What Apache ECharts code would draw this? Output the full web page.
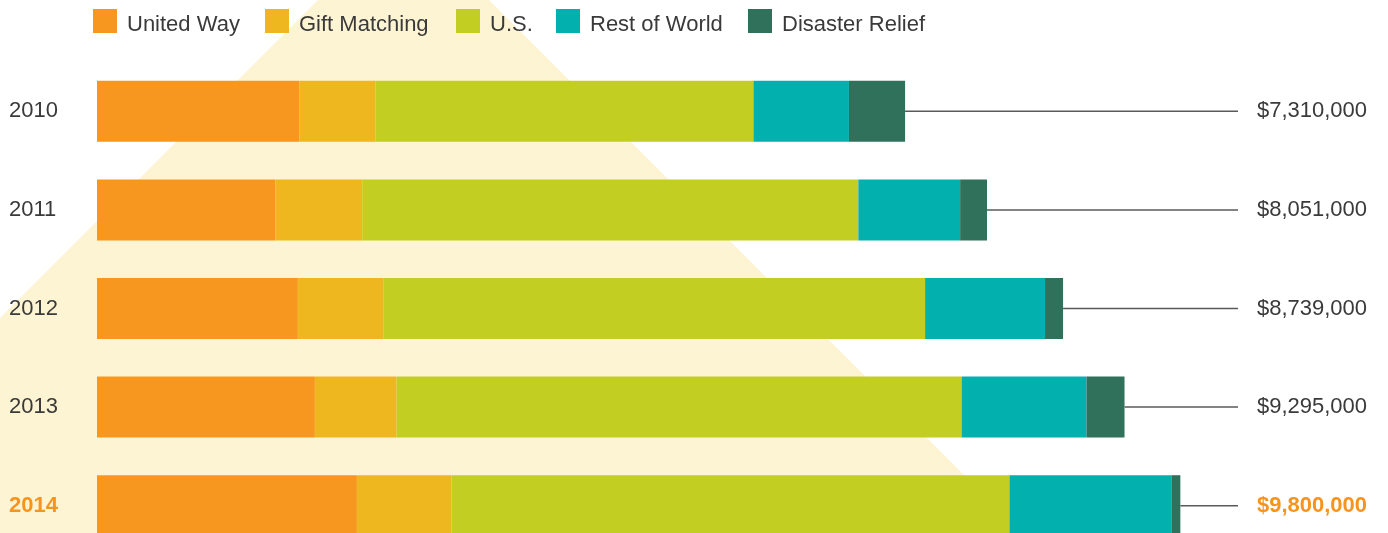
<!DOCTYPE html>
<html>
<head>
<meta charset="utf-8">
<script src="https://cdn.jsdelivr.net/npm/echarts@6/dist/echarts.min.js"></script>
<style>
html,body{margin:0;padding:0;background:#fff;}
#chart{width:1388px;height:533px;}
</style>
</head>
<body>
<div id="chart"></div>
<script>
const years = ['2010', '2011', '2012', '2013', '2014'];
const seriesNames = ['United Way', 'Gift Matching', 'U.S.', 'Rest of World', 'Disaster Relief'];
const unitedWay    = [1832000, 1613000, 1817000, 1971000, 2351000];
const giftMatching = [689000, 786000, 777000, 739000, 856000];
const usValues     = [3417000, 4488000, 4897000, 5111000, 5047000];
const restOfWorld  = [864000, 921000, 1085000, 1130000, 1465000];
const disaster     = [508000, 243000, 163000, 344000, 81000];
const totals       = [7310000, 8051000, 8739000, 9295000, 9800000];
const totalLabels  = ['$7,310,000', '$8,051,000', '$8,739,000', '$9,295,000', '$9,800,000'];

const colors = ['#F7971F', '#EEB720', '#C2CF22', '#02B0AE', '#2F715A'];
const FONT = '"Liberation Sans", Arial, sans-serif';
const TEXT = '#3a3a3a';
const HIGHLIGHT = '#F7941D';

const chart = echarts.init(document.getElementById('chart'));
const valuesBySeries = [unitedWay, giftMatching, usValues, restOfWorld, disaster];

const barSeries = seriesNames.map((name, i) => ({
  name: name,
  type: 'bar',
  stack: 'total',
  barWidth: 61,
  itemStyle: { color: colors[i] },
  emphasis: { disabled: true },
  data: valuesBySeries[i],
  z: 3
}));

const legendLefts = [93, 265, 456, 556, 748];
const legends = seriesNames.map((name, i) => ({
  data: [name],
  left: legendLefts[i],
  top: 9,
  padding: 0,
  itemWidth: 24,
  itemHeight: 24,
  icon: 'rect',
  selectedMode: false,
  formatter: function (n) { return '{t|' + n + '}'; },
  textStyle: {
    fontSize: 22, color: TEXT, fontFamily: FONT, padding: [0, 0, 0, 5],
    rich: { t: { fontSize: 22, color: TEXT, fontFamily: FONT, padding: [8, 0, 0, 0] } }
  }
}));

const totalSeries = {
  type: 'custom',
  z: 4,
  silent: true,
  encode: { x: 0, y: 1 },
  data: totals.map((t, i) => [t, i]),
  renderItem: function (params, api) {
    const idx = api.value(1);
    const end = api.coord([api.value(0), idx]);
    const lineEnd = api.getWidth() - 150;
    const isLast = idx === years.length - 1;
    return {
      type: 'group',
      children: [
        {
          type: 'line',
          shape: { x1: end[0], y1: end[1], x2: lineEnd, y2: end[1] },
          style: { stroke: '#5a5a5a', lineWidth: 1.5 }
        },
        {
          type: 'text',
          style: {
            x: api.getWidth() - 76,
            y: end[1],
            text: totalLabels[idx],
            align: 'center',
            verticalAlign: 'middle',
            fontSize: 22,
            fontFamily: FONT,
            fontWeight: isLast ? 'bold' : 'normal',
            fill: isLast ? HIGHLIGHT : TEXT
          }
        }
      ]
    };
  }
};

const option = {
  animation: false,
  backgroundColor: '#ffffff',
  graphic: [{
    type: 'polygon',
    z: -10,
    silent: true,
    shape: { points: [[403.5, -85.5], [1022, 533], [-215, 533]] },
    style: { fill: '#FDF4D3' }
  }],
  legend: legends,
  grid: { left: 97, top: 62, height: 493, width: 1216, outerBoundsMode: 'none', containLabel: false },
  xAxis: {
    type: 'value',
    min: 0,
    max: 11000000,
    show: false
  },
  yAxis: {
    type: 'category',
    data: years,
    inverse: true,
    axisLine: { show: false },
    axisTick: { show: false },
    splitLine: { show: false },
    axisLabel: {
      align: 'left',
      margin: 88,
      fontSize: 22,
      fontFamily: FONT,
      color: function (v) { return v === '2014' ? HIGHLIGHT : TEXT; },
      formatter: function (v) { return v === '2014' ? '{b|' + v + '}' : v; },
      rich: { b: { fontWeight: 'bold', color: HIGHLIGHT, fontSize: 22, fontFamily: FONT } }
    }
  },
  series: barSeries.concat([totalSeries])
};
chart.setOption(option);
</script>
</body>
</html>
